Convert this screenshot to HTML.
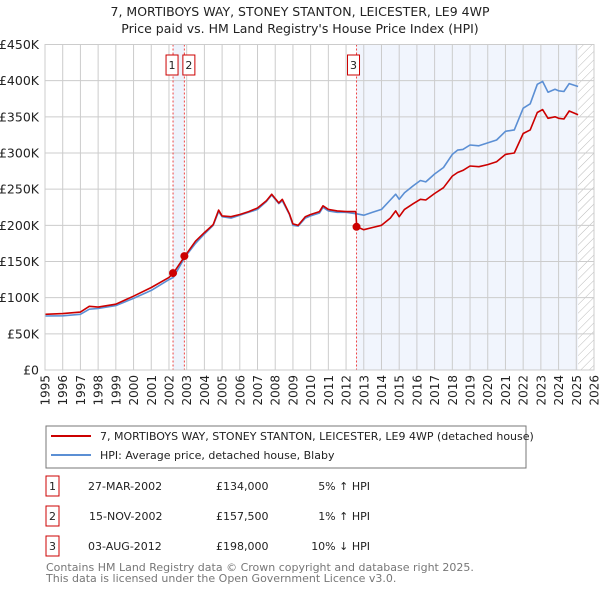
<!DOCTYPE html>
<html><head><meta charset="utf-8"><style>
body{margin:0;background:#fff;font-family:"Liberation Sans","DejaVu Sans",sans-serif;}
svg text{font-family:"DejaVu Sans","Liberation Sans",sans-serif;}
</style></head><body>
<svg id="c" width="600" height="590" xmlns="http://www.w3.org/2000/svg">
<text x="300" y="16" text-anchor="middle" font-size="12.5" fill="#222">7, MORTIBOYS WAY, STONEY STANTON, LEICESTER, LE9 4WP</text>
<text x="300" y="33" text-anchor="middle" font-size="12.5" fill="#222">Price paid vs. HM Land Registry's House Price Index (HPI)</text>
<g id="plot"></g>
<rect x="46" y="426" width="480" height="42" fill="none" stroke="#777"/>
<line x1="51" y1="436" x2="91" y2="436" stroke="#cc0000" stroke-width="2"/>
<text x="100" y="440" font-size="11" fill="#222">7, MORTIBOYS WAY, STONEY STANTON, LEICESTER, LE9 4WP (detached house)</text>
<line x1="51" y1="455" x2="91" y2="455" stroke="#5b8fd4" stroke-width="2"/>
<text x="100" y="459" font-size="11" fill="#222">HPI: Average price, detached house, Blaby</text>
<g font-size="11" fill="#222">
<rect x="46" y="476" width="13" height="20" fill="none" stroke="#cc0000"/><text x="52.5" y="490" text-anchor="middle">1</text>
<text x="88" y="490">27-MAR-2002</text><text x="216" y="490">£134,000</text><text x="370" y="490" text-anchor="end">5% ↑ HPI</text>
<rect x="46" y="506" width="13" height="20" fill="none" stroke="#cc0000"/><text x="52.5" y="520" text-anchor="middle">2</text>
<text x="89" y="520">15-NOV-2002</text><text x="216" y="520">£157,500</text><text x="370" y="520" text-anchor="end">1% ↑ HPI</text>
<rect x="46" y="536" width="13" height="20" fill="none" stroke="#cc0000"/><text x="52.5" y="550" text-anchor="middle">3</text>
<text x="88" y="550">03-AUG-2012</text><text x="216" y="550">£198,000</text><text x="370" y="550" text-anchor="end">10% ↓ HPI</text>
</g>
<text x="46" y="571" font-size="11" fill="#777">Contains HM Land Registry data © Crown copyright and database right 2025.</text>
<text x="46" y="582" font-size="11" fill="#777">This data is licensed under the Open Government Licence v3.0.</text>
</svg>
<script>
const hpiYears=[1995,1996,1997,1997.5,1998,1999,2000,2001,2002,2002.25,2002.9,2003.5,2004,2004.5,2004.8,2005,2005.5,2006,2006.5,2007,2007.5,2007.8,2008.2,2008.4,2008.8,2009,2009.3,2009.7,2010,2010.5,2010.7,2011,2011.5,2012,2012.6,2013,2013.5,2014,2014.5,2014.8,2015,2015.3,2015.8,2016.2,2016.5,2017,2017.5,2018,2018.3,2018.6,2019,2019.5,2020,2020.5,2021,2021.5,2022,2022.4,2022.8,2023.1,2023.4,2023.8,2024,2024.3,2024.6,2025.1];
const hpiValues=[74.6,75,77,84,85,89,99,110,125,128,156,175,188,200,219,212,210,214,218,222,233,242,230,234,215,200,199,210,213,217,225,220,218,218,216,214,218,222,235,243,236,245,255,262,260,271,280,298,304,305,311,310,314,318,330,332,362,368,395,399,384,388,386,385,396,392];
const priceYears=[1995,1996,1997,1997.5,1998,1999,2000,2001,2002,2002.25,2002.9,2003.5,2004,2004.5,2004.8,2005,2005.5,2006,2006.5,2007,2007.5,2007.8,2008.2,2008.4,2008.8,2009,2009.3,2009.7,2010,2010.5,2010.7,2011,2011.5,2012,2012.55,2012.6,2013,2013.5,2014,2014.5,2014.8,2015,2015.3,2015.8,2016.2,2016.5,2017,2017.5,2018,2018.3,2018.6,2019,2019.5,2020,2020.5,2021,2021.5,2022,2022.4,2022.8,2023.1,2023.4,2023.8,2024,2024.3,2024.6,2025.1];
const priceValues=[77,78,80,88,87,91,102,114,128,134,157.5,178,190,201,221,213,212,215,219,224,234,243,231,236,216,202,200,212,215,219,227,222,220,219,219,198,194,197,200,210,220,212,222,230,236,235,244,252,268,273,276,282,281,284,288,298,300,327,332,356,360,348,350,348,347,358,353];
const saleYears=[2002.23,2002.87,2012.59];
const saleValues=[134,157.5,198];
const saleLabels=["1","2","3"];
const yTicks=[0,50,100,150,200,250,300,350,400,450];
const yTickLabels=["£0","£50K","£100K","£150K","£200K","£250K","£300K","£350K","£400K","£450K"];
const xTicks=[1995,1996,1997,1998,1999,2000,2001,2002,2003,2004,2005,2006,2007,2008,2009,2010,2011,2012,2013,2014,2015,2016,2017,2018,2019,2020,2021,2022,2023,2024,2025,2026];

const X0=45,X1=594,Y0=370,Y1=44.5;
const xs=y=>X0+(y-1995)/(2026-1995)*(X1-X0);
const ys=v=>Y0-v/450*(Y0-Y1);
const NS="http://www.w3.org/2000/svg";
const g=document.getElementById('plot');
function mk(t,a){const e=document.createElementNS(NS,t);for(const k in a)e.setAttribute(k,a[k]);g.appendChild(e);return e;}
let e;
e=mk('rect',{x:xs(saleYears[0]),y:Y1,width:xs(saleYears[1])-xs(saleYears[0]),height:Y0-Y1,fill:'#eef3fc'});


e=mk('rect',{x:xs(saleYears[2]),y:Y1,width:xs(2025.1)-xs(saleYears[2]),height:Y0-Y1,fill:'#f1f5fd'});


const defs=document.createElementNS(NS,'defs');defs.innerHTML='<pattern id="h" width="6" height="6" patternUnits="userSpaceOnUse" patternTransform="rotate(45)"><line x1="0" y1="0" x2="0" y2="6" stroke="#bbb" stroke-width="1"/></pattern>';g.appendChild(defs);
e=mk('rect',{x:xs(2025.1),y:Y1,width:X1-xs(2025.1),height:Y0-Y1,fill:'url(#h)'});


xTicks.forEach(t=>{
 e=mk('line',{x1:xs(t),x2:xs(t),y1:Y1,y2:Y0,stroke:'#ccc','stroke-width':1});
 
 
 e=mk('text',{x:0,y:0,transform:`translate(${xs(t)+4.5},${Y0+5}) rotate(-90)`,'text-anchor':'end','font-size':'12',fill:'#222'});e.textContent=t;
 
 
});
yTicks.forEach((t,i)=>{
 e=mk('line',{x1:X0,x2:X1,y1:ys(t),y2:ys(t),stroke:'#ccc','stroke-width':1});
 
 
 e=mk('text',{x:X0-6,y:ys(t)+4.5,'text-anchor':'end','font-size':'12.5',fill:'#222'});e.textContent=yTickLabels[i];
 
 
});
saleYears.forEach((s,i)=>{
 e=mk('line',{x1:xs(s),x2:xs(s),y1:Y1,y2:Y0,stroke:'#e44','stroke-width':1,'stroke-dasharray':'2,2'});
 
 
});
function path(xa,va,col,name){
 const d=xa.map((x,i)=>(i?'L':'M')+xs(x).toFixed(1)+','+ys(va[i]).toFixed(1)).join('');
 e=mk('path',{d,fill:'none',stroke:col,'stroke-width':1.6,'stroke-linejoin':'round'});
 
 
}
path(hpiYears,hpiValues,'#5b8fd4','hpi-line');
path(priceYears,priceValues,'#cc0000','price-line');
saleYears.forEach((s,i)=>{
 e=mk('circle',{cx:xs(s),cy:ys(saleValues[i]),r:4,fill:'#cc0000'});
 
 
});
const bx=[xs(saleYears[0])-7,xs(saleYears[1])-1.5,xs(saleYears[2])-9];
saleLabels.forEach((l,i)=>{
 e=mk('rect',{x:bx[i],y:55,width:12,height:20,fill:'#fff',stroke:'#cc0000'});
 
 
 e=mk('text',{x:bx[i]+6,y:69,'text-anchor':'middle','font-size':'11',fill:'#222'});e.textContent=l;
 
 
});
e=mk('rect',{x:X0,y:Y1,width:X1-X0,height:Y0-Y1,fill:'none',stroke:'#ccc'});


</script>
</body></html>
